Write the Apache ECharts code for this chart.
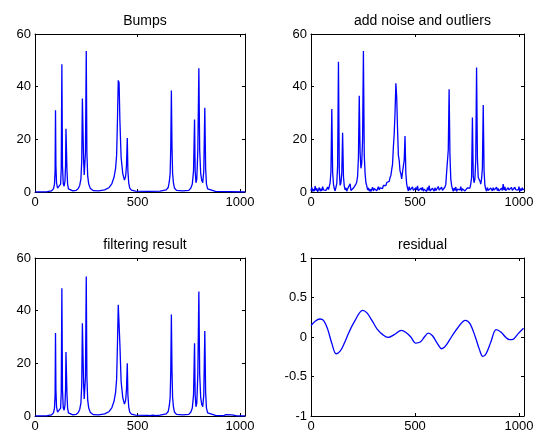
<!DOCTYPE html>
<html>
<head>
<meta charset="utf-8">
<script src="https://cdn.jsdelivr.net/npm/echarts@6/dist/echarts.min.js"></script>
<style>
html,body{margin:0;padding:0;background:#fff;}
#chart{width:539px;height:437px;}
</style>
</head>
<body>
<div id="chart"></div>
<script>
// ---- Data ----
const titles = ['Bumps', 'add noise and outliers', 'filtering result', 'residual'];
const xTicks = [0, 500, 1000];
const bumpTicks = [0, 20, 40, 60];
const residTicks = [-1, -0.5, 0, 0.5, 1];

// Bumps (clean signal)
const bumpsX = [0,60,80,90,95,98,100,102,105,110,118,125,128,131,134,138,142,146,149,151,153,156,159,163,170,185,200,210,218,224,228,231,234,237,240,243,246,250,253,257,262,270,285,310,340,360,375,385,393,398,402,406,410,414,420,428,436,442,446,450,453,457,462,470,490,550,610,640,650,655,659,662,665,668,671,675,680,690,720,750,760,767,773,778,781,785,789,794,799,803,808,813,818,823,828,832,836,842,850,880,1024];
const bumpsY = [0,0.1,0.4,1.2,3,8,31,10,3.5,1.5,1.2,3,9,48.5,10,3,2.2,4,10,24,24.5,8,3,1.2,0.5,0.4,0.6,1.2,2.5,5,12,35.5,36,12,6.5,7,15,53.5,15,6,3,1.3,0.5,0.4,0.8,1.6,3.2,5.5,9,14,27,42.4,41.5,27,13,7,4.5,6,10,20.5,8,3.5,1.5,0.7,0.3,0.2,0.3,0.8,1.8,4,7,17,38.5,17,7,3.5,1.5,0.6,0.4,0.6,1.5,3,8,27.5,8,3.5,5,16,47,16,7,4.5,3.5,8,32,9,3,1.2,0.5,0.2,0];

// Noisy signal, one value every noisyStep samples
const noisyStep = 4;
const noisyY = [
0.5,1.8,0.2,1.1,0.3,2.2,0.6,1.4,0.1,0.9,1.7,0.3,1.2,0.4,2.0,0.8,0.2,1.5,0.6,1.1,
1.9,0.9,2.1,3.5,8,31.5,7.5,3,1.2,0.4,1.8,3.2,10,49.5,8,2.5,3.5,7,22.5,6,
2.2,0.8,1.6,0.3,1.2,0.5,1.4,3.1,0.6,1.0,0.2,1.5,0.9,2.0,3.0,3.8,6,13,36.5,15,
9,11,20,53.5,14,7,3.5,2.4,0.8,1.6,0.3,1.1,0.2,0.9,1.8,0.4,1.3,0.6,1.7,0.5,
1.2,2.0,0.8,1.6,1.0,2.2,1.3,2.5,1.8,3.0,2.4,3.6,3.1,4.2,4.0,5.5,6.3,8.5,10.5,17,
22,30,41.3,36,24,14,12,8,7,5,7.5,8,12,21.3,7,3,1.5,0.4,2.0,0.7,
1.4,0.2,1.9,0.6,1.2,0.3,1.6,0.8,2.3,0.4,1.0,0.1,1.5,0.7,1.8,0.3,1.1,0.5,1.3,0.2,
1.7,0.6,2.4,0.4,1.0,0.2,1.4,0.8,0.3,1.6,0.5,1.2,0.1,2.1,0.7,1.3,0.4,1.8,0.6,1.1,
0.9,1.9,2.8,7.5,8,16,39,14,5,2.5,1.2,0.3,1.5,0.6,1.9,0.2,1.1,0.5,1.4,0.8,
2.0,0.3,1.2,0.6,1.7,0.4,1.0,0.2,1.6,0.9,2.2,1.5,3.0,5.5,28.3,6,3.5,5,12,47.3,
13,5.5,6,4.2,3,5,9,33,8,2.5,1.1,0.3,1.7,0.6,1.3,0.2,1.5,0.8,0.4,1.6,
0.7,1.2,0.1,1.8,0.5,1.3,0.4,1.0,0.3,1.5,0.6,3.0,0.7,1.9,0.5,1.1,0.2,1.6,0.8,1.4,
0.3,1.7,0.6,1.2,0.1,1.8,0.9,0.4,1.5,0.7,2.0,0.3,1.3,0.5,1.6,0.8,1.1
];

// Filtering result
const filtX = [0,60,80,90,95,98,100,102,105,110,118,125,128,131,134,138,142,146,149,151,153,156,159,163,170,185,200,210,218,224,228,231,234,237,240,243,246,250,253,257,262,270,285,310,340,360,375,385,393,398,402,406,410,414,420,428,436,442,446,450,453,457,462,470,490,550,560,575,590,610,640,650,655,659,662,665,668,671,675,680,690,720,750,760,767,773,778,781,785,789,794,799,803,808,813,818,823,828,832,836,842,850,880,920,930,960,980,1024];
const filtY = [0,0.1,0.4,1.2,3,8,31.5,10,3.5,1.5,1.2,3,9,48.5,10,3,2.2,4,10,24.3,24.6,8,3,1.2,0.5,0.4,0.6,1.2,2.5,5,12,35.2,35.6,12,6.5,7,15,53,15,6,3,1.3,0.5,0.4,0.8,1.6,3.2,5.5,9,14,27,42.2,41.5,27,13,7,4.5,6,10,20,8,3.5,1.5,0.7,0.3,0.2,0.1,0.3,0.1,0.3,0.8,1.8,4,7,17,38.5,17,7,3.5,1.5,0.6,0.4,0.6,1.5,3,8,27.6,8,3.5,5,16,47.3,16,7,4.5,3.5,8,32.3,9,3,1.2,0.5,0.2,0.1,0.5,0.4,0.1,0];

// Residual
const residX = [0,20,43,60,80,100,121,140,160,181,210,248,269,295,318,345,371,400,435,455,480,503,527,545,564,584,605,629,648,675,705,742,764,790,810,826,842,865,890,914,935,955,971,995,1022];
const residY = [0.143,0.2,0.228,0.21,0.1,-0.08,-0.212,-0.18,-0.08,0.05,0.2,0.338,0.305,0.2,0.1,0.03,-0.005,0.03,0.084,0.06,0.0,-0.077,-0.06,0.0,0.05,0.016,-0.07,-0.149,-0.11,0.0,0.114,0.211,0.17,0.0,-0.16,-0.246,-0.21,-0.06,0.093,0.06,0.0,-0.034,-0.03,0.04,0.11];

// ---- Build options ----
const pairs = (xs, ys) => xs.map((x, i) => [x, ys[i]]);
const noisyData = noisyY.map((y, i) => [i * noisyStep, y]);

const grids = [
  {left: 35, top: 34, width: 210, height: 158},
  {left: 311, top: 34, width: 213, height: 158},
  {left: 35, top: 258, width: 210, height: 158},
  {left: 311, top: 258, width: 213, height: 158}
];
const font = 'Liberation Sans, Arial, sans-serif';
const lineStyle = {color: '#000', width: 1};
const tickStyle = {show: true, inside: true, length: 3, lineStyle: {color: '#000', width: 1}};

const xAxes = [], yAxes = [];
grids.forEach((g, i) => {
  const isResid = i === 3;
  xAxes.push({
    type: 'value', gridIndex: i, position: 'bottom', min: 0, max: 1024, interval: 500,
    axisLine: {show: true, onZero: false, lineStyle},
    axisTick: tickStyle,
    splitLine: {show: false},
    axisLabel: {show: true, color: '#000', fontSize: 13, fontFamily: font, margin: 4,
      formatter: v => (xTicks.indexOf(v) >= 0 ? String(v) : '')}
  });
  xAxes.push({
    type: 'value', gridIndex: i, position: 'top', min: 0, max: 1024, interval: 500,
    axisLine: {show: true, onZero: false, lineStyle},
    axisTick: tickStyle, splitLine: {show: false}, axisLabel: {show: false}
  });
  const ticks = isResid ? residTicks : bumpTicks;
  const yBase = {
    type: 'value', gridIndex: i,
    min: ticks[0], max: ticks[ticks.length - 1], interval: ticks[1] - ticks[0],
    axisLine: {show: true, onZero: false, lineStyle},
    axisTick: tickStyle, splitLine: {show: false}
  };
  yAxes.push(Object.assign({}, yBase, {position: 'left',
    axisLabel: {show: true, color: '#000', fontSize: 13, fontFamily: font, margin: 4}}));
  yAxes.push(Object.assign({}, yBase, {position: 'right', axisLabel: {show: false}}));
});

const seriesData = [pairs(bumpsX, bumpsY), noisyData, pairs(filtX, filtY), pairs(residX, residY)];
const series = seriesData.map((d, i) => ({
  type: 'line', xAxisIndex: i * 2, yAxisIndex: i * 2, data: d,
  showSymbol: false, symbol: 'none', smooth: i === 3 ? 0.35 : false,
  lineStyle: {color: '#0000ff', width: 1.3}, animation: false, clip: true
}));

const title = titles.map((t, i) => ({
  text: t, left: grids[i].left + grids[i].width / 2, top: grids[i].top - 25,
  textAlign: 'center',
  textStyle: {color: '#000', fontSize: 14, fontWeight: 'normal', fontFamily: font}
}));

const chart = echarts.init(document.getElementById('chart'), null, {renderer: 'canvas'});
chart.setOption({
  backgroundColor: '#fff', animation: false,
  title, grid: grids, xAxis: xAxes, yAxis: yAxes, series
});
</script>
</body>
</html>
